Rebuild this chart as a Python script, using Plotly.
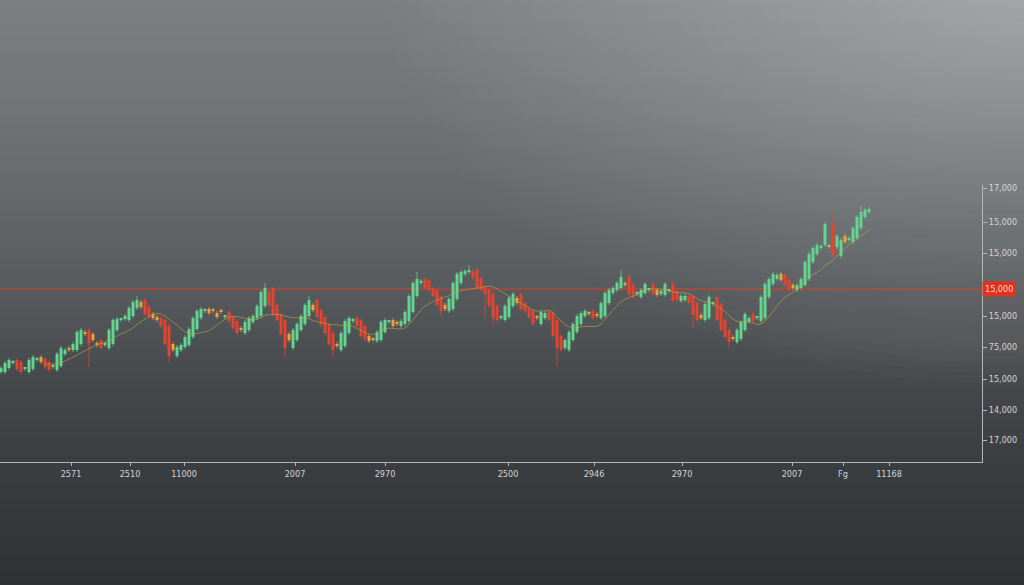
import plotly.graph_objects as go
import pandas as pd

# ---------------- data ----------------
first_open = 12900
closes = [
    12940, 12990, 13020, 13000, 12930, 12900, 12930, 13020, 13050, 13030,
    13000, 12950, 12920, 12960, 13080, 13140, 13120, 13120, 13180, 13300,
    13320, 13280, 13190, 13220, 13170, 13140, 13180, 13320, 13420, 13430,
    13420, 13460, 13540, 13600, 13620, 13550, 13480, 13450, 13440, 13420,
    13360, 13180, 13060, 13120, 13150, 13170, 13250, 13330, 13440, 13510,
    13530, 13520, 13490, 13510, 13450, 13500, 13450, 13410, 13340, 13290,
    13320, 13400, 13440, 13460, 13560, 13700, 13740, 13570, 13470, 13420,
    13280, 13140, 13220, 13320, 13380, 13460, 13570, 13620, 13520, 13450,
    13370, 13290, 13180, 13120, 13160, 13290, 13410, 13440, 13420, 13360,
    13260, 13230, 13210, 13220, 13300, 13400, 13420, 13400, 13360, 13380,
    13410, 13500, 13660, 13790, 13830, 13810, 13740, 13720, 13660, 13570,
    13510, 13530, 13630, 13790, 13880, 13900, 13910, 13920, 13840, 13750,
    13720, 13680, 13560, 13440, 13420, 13450, 13560, 13640, 13680, 13590,
    13530, 13510, 13450, 13380, 13440, 13500, 13490, 13420, 13260, 13140,
    13120, 13220, 13300, 13380, 13460, 13490, 13510, 13480, 13440, 13460,
    13590, 13690, 13720, 13740, 13790, 13850, 13770, 13680, 13650, 13690,
    13720, 13780, 13720, 13680, 13670, 13710, 13780, 13710, 13610, 13620,
    13660, 13660, 13590, 13470, 13420, 13440, 13580, 13650, 13580, 13420,
    13320, 13250, 13200, 13230, 13320, 13400, 13480, 13440, 13410, 13440,
    13650, 13780, 13830, 13880, 13870, 13820, 13770, 13720, 13740, 13770,
    13830, 14000, 14080, 14140, 14170, 14160, 14380, 14150, 14060, 14260,
    14220, 14200, 14240, 14340, 14450, 14500, 14520, 14530,
]
high_wicks = {34: 13660, 66: 13790, 77: 13660, 104: 13900, 117: 13970,
              155: 13920, 208: 14500, 215: 14560}
low_wicks = {22: 12950, 42: 12990, 71: 13050, 83: 13050, 110: 13460,
             121: 13440, 123: 13370, 139: 12960, 173: 13340, 182: 13140}

x_tick_pos = [17.5, 32.25, 45.75, 73.5, 96, 126.75, 148.25, 170.25, 197.75, 210.5, 222]
x_tick_text = ["2571", "2510", "11000", "2007", "2970", "2500", "2946", "2970", "2007", "Fg", "11168"]
y_tick_vals = [14740, 14400, 14090, 13460, 13150, 12830, 12520, 12220]
y_tick_text = ["17,000", "15,000", "15,000", "15,000", "75,000", "15,000", "14,000", "17,000"]
ref_level = 13730
ref_label = "15,000"

# ---------------- styling ----------------
GREEN = "#62d690"
RED = "#e6442e"
ORANGE = "#efa03c"
WICK = 20
MIN_BODY = 15
AXIS_COL = "#b4b6b8"
TICK_FONT = dict(family="Liberation Sans Narrow, DejaVu Sans Condensed, sans-serif",
                 size=9, color="#d2d4d6")

idx = list(range(len(closes)))
# each candle opens at the close two bars earlier (overlapping bodies as in the source)
opens = [first_open, first_open] + closes[:-2]

colors, bases, heights, highs, lows = [], [], [], [], []
for i, (o, c) in enumerate(zip(opens, closes)):
    if c >= o:
        col = GREEN
    elif o - c >= 70:
        col = RED
    else:
        col = ORANGE
    colors.append(col)
    lo_b, hi_b = min(o, c), max(o, c)
    bases.append(lo_b)
    heights.append(max(hi_b - lo_b, MIN_BODY))
    highs.append(max(high_wicks.get(i, hi_b + WICK), hi_b))
    lows.append(min(low_wicks.get(i, lo_b - WICK), lo_b))

fig = go.Figure()

# wicks grouped by colour
for col in (GREEN, RED, ORANGE):
    wx, wy = [], []
    for i in idx:
        if colors[i] == col:
            wx += [i, i, None]
            wy += [lows[i], highs[i], None]
    fig.add_trace(go.Scatter(x=wx, y=wy, mode="lines",
                             line=dict(color=col, width=1),
                             opacity=0.75, hoverinfo="skip", showlegend=False))

# bodies
fig.add_trace(go.Bar(x=idx, y=heights, base=bases, width=0.74,
                     marker=dict(color=colors, line_width=0),
                     showlegend=False))

# moving average
ma = pd.Series(closes).rolling(12).mean()
fig.add_trace(go.Scatter(x=idx, y=ma, mode="lines",
                         line=dict(color="rgba(200,170,70,0.55)", width=1),
                         hoverinfo="skip", showlegend=False))

# ---------------- background gradient ----------------
PLOT_TOP, PLOT_BOT, PLOT_W, FIG_W, FIG_H = 185, 462, 982, 1024, 585
stops = [(0, (124, 127, 129)), (100, (114, 117, 120)), (200, (101, 104, 107)),
         (300, (86, 89, 92)), (380, (70, 73, 76)), (462, (59, 62, 65)),
         (585, (46, 50, 53))]


def col_at(py):
    for (y0, c0), (y1, c1) in zip(stops[:-1], stops[1:]):
        if y0 <= py <= y1:
            t = (py - y0) / (y1 - y0)
            return tuple(round(a + (b - a) * t) for a, b in zip(c0, c1))
    return stops[-1][1]


def py2paper(py):
    return (PLOT_BOT - py) / (PLOT_BOT - PLOT_TOP)


shapes = []
band = 6
for py in range(0, FIG_H, band):
    r, g, b = col_at(py + band / 2)
    shapes.append(dict(type="rect", xref="paper", yref="paper", layer="below",
                       x0=-0.02, x1=FIG_W / PLOT_W + 0.02,
                       y0=py2paper(py + band + 1), y1=py2paper(py),
                       line=dict(width=0), fillcolor=f"rgb({r},{g},{b})"))

cx, cy = 1020, -15
for R in range(470, 10, -12):
    rx, ry = R * 1.35, R * 0.85
    shapes.append(dict(type="circle", xref="paper", yref="paper", layer="below",
                       x0=(cx - rx) / PLOT_W, x1=(cx + rx) / PLOT_W,
                       y0=py2paper(cy + ry), y1=py2paper(cy - ry),
                       line=dict(width=0), fillcolor="rgba(255,255,255,0.0115)"))

shapes.append(dict(type="line", xref="paper", yref="y", layer="below",
                   x0=0, x1=1, y0=ref_level, y1=ref_level,
                   line=dict(color="#d8402c", width=1)))

fig.update_layout(
    width=FIG_W, height=FIG_H,
    margin=dict(l=0, r=FIG_W - PLOT_W, t=PLOT_TOP, b=FIG_H - PLOT_BOT, pad=0),
    paper_bgcolor="#45484b",
    plot_bgcolor="rgba(0,0,0,0)",
    showlegend=False,
    shapes=shapes,
    xaxis=dict(range=[-0.25, 245.25], showgrid=False, zeroline=False,
               showline=True, linecolor=AXIS_COL, linewidth=1,
               ticks="outside", ticklen=3, tickcolor=AXIS_COL,
               tickvals=x_tick_pos, ticktext=x_tick_text, tickfont=TICK_FONT,
               fixedrange=True),
    yaxis=dict(range=[12000, 14770], side="right", showgrid=False, zeroline=False,
               showline=True, linecolor=AXIS_COL, linewidth=1,
               ticks="outside", ticklen=4, tickcolor=AXIS_COL,
               tickvals=y_tick_vals, ticktext=y_tick_text, tickfont=TICK_FONT,
               fixedrange=True),
    annotations=[dict(xref="paper", yref="y", x=1, y=ref_level, xanchor="left",
                      yanchor="middle", text=ref_label, showarrow=False,
                      bgcolor="#e0321f", borderpad=2,
                      font=dict(family=TICK_FONT["family"], size=9, color="#f6d2c8"))],
)

fig.write_html("out.html", config={"displayModeBar": False},
               post_script="document.body.style.margin='0';document.body.style.background='#45484b';")
